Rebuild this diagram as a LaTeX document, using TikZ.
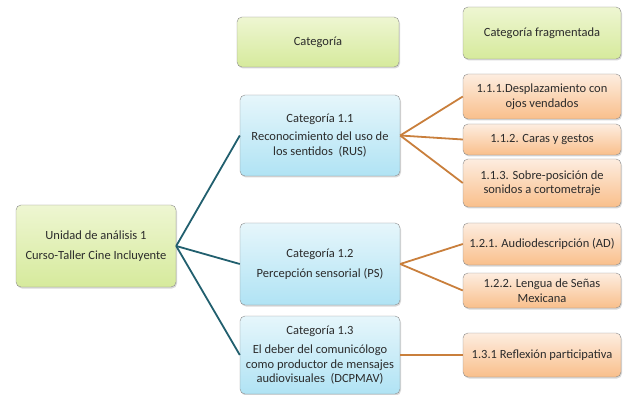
\documentclass[tikz,border=0pt]{standalone}
\usepackage{fontspec}
\setmainfont{Carlito}
\usetikzlibrary{shadows}
\definecolor{grtop}{HTML}{EEF6D2}
\definecolor{grbot}{HTML}{D6EA9C}
\definecolor{bltop}{HTML}{E6F6FB}
\definecolor{blbot}{HTML}{B0E3F4}
\definecolor{ortop}{HTML}{FDEDE0}
\definecolor{orbot}{HTML}{F9BF8B}
\definecolor{tealline}{HTML}{215F6E}
\definecolor{orline}{HTML}{C97F3C}
\definecolor{boxtext}{HTML}{2B2B2B}

\begin{document}
\begin{tikzpicture}[x=1pt,y=-1pt,
  box/.style={draw=black!45, rounded corners=5pt, align=center, inner sep=2pt,
    font=\fontsize{12.5}{14.5}\selectfont, text=boxtext,
    drop shadow={shadow xshift=1pt, shadow yshift=-1.5pt, fill=black!30}},
  greenbox/.style={box, top color=grtop, bottom color=grbot},
  bluebox/.style={box, top color=bltop, bottom color=blbot, minimum width=160pt},
  orangebox/.style={box, top color=ortop, bottom color=orbot, minimum width=158pt}]
\useasboundingbox (0,0) rectangle (623,395);
% cabeceras
\node[greenbox, minimum width=162pt, minimum height=50pt] (hdrcat) at (318,42) {Categoría};
\node[greenbox, minimum width=158pt, minimum height=52pt] (hdrfrag) at (542,33) {Categoría fragmentada};
% unidad y categorias
\node[greenbox, minimum width=160pt, minimum height=82pt] (unidad) at (96,246)
  {Unidad de análisis 1\\[5pt]Curso-Taller Cine Incluyente};
\node[bluebox, minimum height=81pt] (cat11) at (320,135.5)
  {Categoría 1.1\\[4pt]Reconocimiento del uso de\\los sentidos~ (RUS)};
\node[bluebox, minimum height=82pt] (cat12) at (320,264)
  {Categoría 1.2\\[6pt]Percepción sensorial (PS)};
\node[bluebox, minimum height=78pt] (cat13) at (320,355)
  {Categoría 1.3\\[5pt]El deber del comunicólogo\\como productor de mensajes\\audiovisuales~ (DCPMAV)};
% categorias fragmentadas
\node[orangebox, minimum height=45pt] (f111) at (542,96.5) {1.1.1.Desplazamiento con\\ojos vendados};
\node[orangebox, minimum height=31pt] (f112) at (542,139.5) {1.1.2. Caras y gestos};
\node[orangebox, minimum height=48pt] (f113) at (542,183) {1.1.3. Sobre-posición de\\sonidos a cortometraje};
\node[orangebox, minimum height=42pt] (f121) at (542,244) {1.2.1. Audiodescripción (AD)};
\node[orangebox, minimum height=35pt] (f122) at (542,290.5) {1.2.2. Lengua de Señas\\Mexicana};
\node[orangebox, minimum height=44pt] (f131) at (542,355) {1.3.1 Reflexión participativa};
% conectores
\foreach \c in {cat11,cat12,cat13}
  \draw[tealline, line width=1.8pt] (unidad.east) -- (\c.west);
\foreach \f in {f111,f112,f113}
  \draw[orline, line width=1.8pt] (cat11.east) -- (\f.west);
\foreach \f in {f121,f122}
  \draw[orline, line width=1.8pt] (cat12.east) -- (\f.west);
\draw[orline, line width=1.8pt] (cat13.east) -- (f131.west);
\end{tikzpicture}
\end{document}
